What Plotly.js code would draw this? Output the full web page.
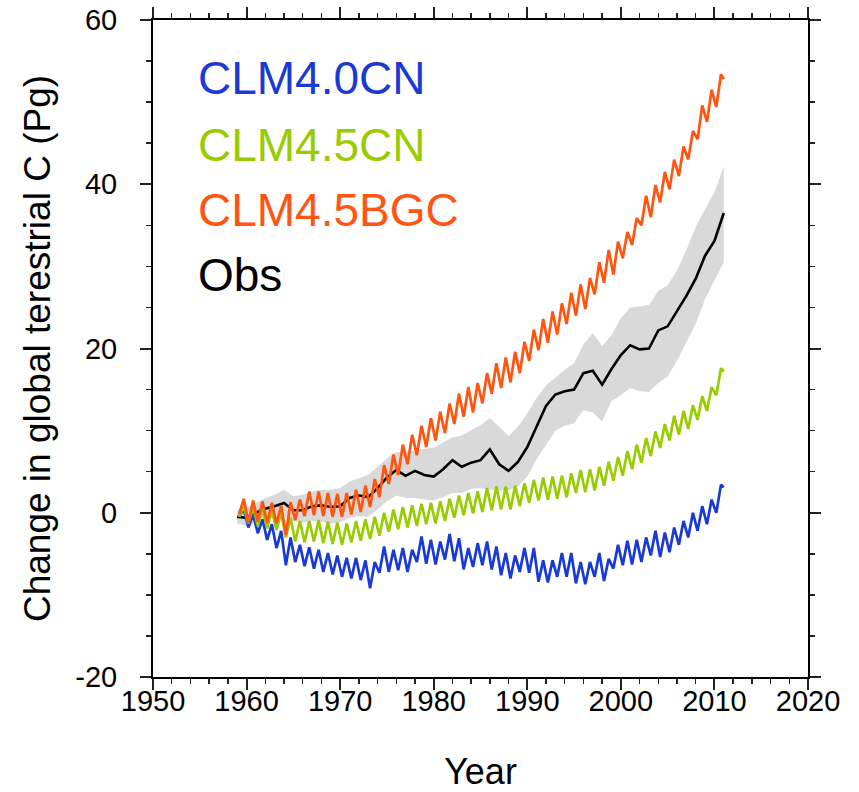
<!DOCTYPE html>
<html>
<head>
<meta charset="utf-8">
<script src="https://cdn.plot.ly/plotly-3.0.1.min.js"></script>
<style>html,body{margin:0;padding:0;background:#fff;}#chart{width:859px;height:792px;}</style>
</head>
<body>
<div id="chart"></div>
<script>
// ---- data ----
const modelYears = [1959,1960,1961,1962,1963,1964,1965,1966,1967,1968,1969,1970,1971,1972,1973,1974,1975,1976,1977,1978,1979,1980,1981,1982,1983,1984,1985,1986,1987,1988,1989,1990,1991,1992,1993,1994,1995,1996,1997,1998,1999,2000,2001,2002,2003,2004,2005,2006,2007,2008,2009,2010];

// CLM4.0CN seasonal troughs / peaks (Pg C)
const clm40Trough = [-0.5,-1.8,-2.5,-3.3,-4.3,-6.4,-6.0,-6.5,-6.8,-7.2,-7.5,-7.8,-8.0,-8.2,-9.2,-7.3,-7.2,-7.0,-7.2,-6.0,-6.2,-6.3,-5.7,-5.9,-6.9,-6.6,-6.4,-6.9,-7.6,-8.0,-7.2,-7.3,-8.4,-8.5,-7.8,-7.8,-8.6,-8.7,-7.8,-8.3,-6.8,-6.4,-6.3,-6.0,-5.2,-5.4,-4.8,-3.9,-3.0,-2.2,-1.4,0.0];
const clm40Peak   = [0.5,-0.2,-0.8,-1.4,-2.2,-3.0,-3.9,-4.2,-4.5,-4.9,-5.2,-5.5,-5.5,-5.8,-6.0,-4.1,-4.5,-4.3,-4.5,-2.9,-3.3,-3.5,-2.6,-3.1,-4.3,-3.7,-3.5,-4.1,-4.9,-5.2,-4.3,-4.3,-5.8,-5.8,-4.9,-4.9,-6.0,-6.0,-4.9,-5.6,-3.9,-3.4,-3.3,-3.0,-2.2,-2.4,-1.8,-1.0,0.0,0.8,1.6,3.4];
const clm40End = 3.1;

// CLM4.5CN
const clm45Trough = [-0.5,-1.3,-1.6,-1.9,-2.1,-3.0,-3.5,-3.6,-3.5,-3.7,-3.8,-3.9,-3.6,-3.4,-3.2,-2.8,-2.3,-2.0,-1.8,-1.6,-1.4,-1.3,-1.0,-0.6,-0.3,-0.1,0.1,0.3,0.4,0.4,0.8,1.2,1.5,1.6,1.7,1.9,2.4,2.5,2.7,3.3,3.9,4.5,5.3,6.1,6.9,7.9,8.8,9.5,10.2,11.3,12.4,14.3];
const clm45Peak   = [0.8,0.7,0.5,0.3,0.0,-0.6,-1.0,-1.0,-0.9,-1.1,-1.2,-1.3,-1.0,-0.8,-0.5,0.0,0.4,0.7,0.9,1.1,1.2,1.4,1.7,2.1,2.4,2.6,3.0,3.2,3.2,3.3,3.6,4.0,4.3,4.4,4.5,4.8,5.2,5.3,5.6,6.2,6.8,7.5,8.3,9.1,9.9,10.8,11.8,12.4,13.1,14.2,15.3,17.6];
const clm45End = 17.2;

// CLM4.5BGC
const bgcTrough = [-0.2,-1.2,-1.1,-1.2,-1.3,-2.7,-0.9,-0.4,-0.3,-0.4,-0.5,-0.5,-0.2,0.1,0.7,1.9,3.5,4.6,5.9,7.0,8.0,8.8,9.7,10.8,11.7,12.2,13.3,14.5,15.2,15.9,17.0,18.5,19.8,20.7,21.7,23.0,24.0,24.8,26.6,28.0,29.0,31.0,32.6,35.0,36.0,37.8,39.4,41.0,43.0,45.5,47.6,49.4];
const bgcPeak   = [1.7,1.5,1.4,1.2,0.9,1.3,1.6,2.6,2.6,2.4,2.3,2.4,2.8,3.3,4.1,5.8,7.1,8.3,9.5,10.6,11.5,12.3,13.3,14.5,15.3,15.8,17.0,18.2,18.9,19.6,20.8,22.3,23.6,24.5,25.5,26.8,27.8,28.6,30.5,32.0,33.0,34.2,35.9,38.6,39.9,41.5,43.0,44.6,46.5,49.6,51.5,53.4];
const bgcEnd = 52.8;

// Observations (annual) and uncertainty range
const obsYears = [1959,1960,1961,1962,1963,1964,1965,1966,1967,1968,1969,1970,1971,1972,1973,1974,1975,1976,1977,1978,1979,1980,1981,1982,1983,1984,1985,1986,1987,1988,1989,1990,1991,1992,1993,1994,1995,1996,1997,1998,1999,2000,2001,2002,2003,2004,2005,2006,2007,2008,2009,2010,2011];
const obsMean  = [-0.5,-0.6,0.0,0.5,0.8,1.2,0.3,0.3,0.8,0.9,0.7,0.8,1.8,2.1,1.9,3.0,4.3,5.2,4.5,5.1,4.6,4.4,5.3,6.4,5.6,6.1,6.4,7.7,5.9,5.1,6.2,8.0,10.5,13.0,14.4,14.8,15.0,17.0,17.3,15.6,17.5,19.2,20.4,19.9,20.0,22.2,22.7,24.5,26.4,28.5,31.3,33.1,36.5];
const obsUpper = [0.3,0.6,1.2,1.8,2.2,2.8,2.0,2.2,2.6,2.8,2.8,3.0,3.8,4.2,4.6,5.6,6.6,7.4,7.3,7.6,7.8,7.9,8.6,9.2,9.4,10.0,10.7,11.5,10.5,9.3,10.5,12.1,14.0,15.5,16.5,17.4,18.2,20.5,21.9,20.3,21.6,23.7,25.0,25.1,25.3,27.0,27.7,29.5,32.0,34.8,37.0,39.0,42.2];
const obsLower = [-1.3,-1.6,-1.2,-0.9,-0.6,-0.5,-1.0,-1.2,-1.0,-1.1,-1.3,-1.2,-0.6,-0.4,-0.5,0.4,1.4,2.1,1.8,1.8,1.6,1.5,1.9,2.4,2.4,2.9,3.0,2.8,2.7,2.7,3.2,4.4,6.5,8.3,10.0,10.6,10.9,12.5,12.2,11.1,13.6,14.3,15.2,14.8,14.7,15.8,16.6,18.5,20.8,23.0,26.0,28.3,30.5];

const seriesNames = ["CLM4.0CN","CLM4.5CN","CLM4.5BGC","Obs"];
const seriesColors = ["#1a3ad6","#99cc00","#ff5511","#000000"];

// axis tick values and labels
const xTickVals = [1950,1960,1970,1980,1990,2000,2010,2020];
const xTickText = ["1950","1960","1970","1980","1990","2000","2010","2020"];
const yTickVals = [-20,0,20,40,60];
const yTickText = ["-20","0","20","40","60"];

// ---- build traces ----
function zigzag(trough, peak, endVal) {
  const x = [], y = [];
  for (let i = 0; i < modelYears.length; i++) {
    x.push(modelYears[i] + 0.2); y.push(trough[i]);
    x.push(modelYears[i] + 0.7); y.push(peak[i]);
  }
  x.push(2011.0); y.push(endVal);
  return {x, y};
}

const band = {
  x: obsYears.concat(obsYears.slice().reverse()),
  y: obsUpper.concat(obsLower.slice().reverse()),
  type: 'scatter', mode: 'lines', fill: 'toself',
  fillcolor: '#d9d9d9', line: {width: 0, color: '#d9d9d9'},
  hoverinfo: 'skip', showlegend: false
};
const obsTrace = {x: obsYears, y: obsMean, type: 'scatter', mode: 'lines',
  line: {color: seriesColors[3], width: 2.6}, name: seriesNames[3], showlegend: false};

const z40 = zigzag(clm40Trough, clm40Peak, clm40End);
const z45 = zigzag(clm45Trough, clm45Peak, clm45End);
const zbgc = zigzag(bgcTrough, bgcPeak, bgcEnd);

const t40 = {x: z40.x, y: z40.y, type: 'scatter', mode: 'lines', line: {color: seriesColors[0], width: 2.7}, name: seriesNames[0], showlegend: false};
const t45 = {x: z45.x, y: z45.y, type: 'scatter', mode: 'lines', line: {color: seriesColors[1], width: 2.7}, name: seriesNames[1], showlegend: false};
const tbgc = {x: zbgc.x, y: zbgc.y, type: 'scatter', mode: 'lines', line: {color: seriesColors[2], width: 2.7}, name: seriesNames[2], showlegend: false};

const FONT = 'Liberation Sans, Arial, Helvetica, sans-serif';
const legendY = [0.911, 0.810, 0.711, 0.612];
const annotations = seriesNames.map((n, i) => ({
  text: n, xref: 'paper', yref: 'paper', x: 0.066, y: legendY[i],
  xanchor: 'left', yanchor: 'middle', showarrow: false,
  font: {family: FONT, size: 46, color: seriesColors[i]}
}));

const axisCommon = {
  showline: true, linecolor: '#000', linewidth: 2, mirror: 'ticks',
  ticks: 'outside', ticklen: 11, tickwidth: 2, tickcolor: '#222',
  showgrid: false, zeroline: false, tickmode: 'array',
  tickfont: {family: FONT, size: 29, color: '#000'}
};

const layout = {
  width: 859, height: 792,
  margin: {l: 153, r: 51, t: 20, b: 115},
  paper_bgcolor: '#fff', plot_bgcolor: '#fff',
  showlegend: false,
  xaxis: Object.assign({}, axisCommon, {
    range: [1950, 2020], tickvals: xTickVals, ticktext: xTickText,
    ticklabelstandoff: -14,
    minor: {dtick: 2, tick0: 1950, ticklen: 5, tickwidth: 1.5, tickcolor: '#222', ticks: 'outside', showgrid: false},
    title: {text: 'Year', font: {family: FONT, size: 36, color: '#000'}, standoff: 51}
  }),
  yaxis: Object.assign({}, axisCommon, {
    range: [-20, 60], tickvals: yTickVals, ticktext: yTickText,
    ticklabelstandoff: 17,
    minor: {dtick: 5, tick0: -20, ticklen: 5, tickwidth: 1.5, tickcolor: '#222', ticks: 'outside', showgrid: false},
    title: {text: 'Change in global terestrial C (Pg)', font: {family: FONT, size: 37, color: '#000'}, standoff: 13}
  }),
  annotations: annotations
};

Plotly.newPlot('chart', [band, obsTrace, t40, t45, tbgc], layout, {staticPlot: true, displayModeBar: false});
</script>
</body>
</html>
